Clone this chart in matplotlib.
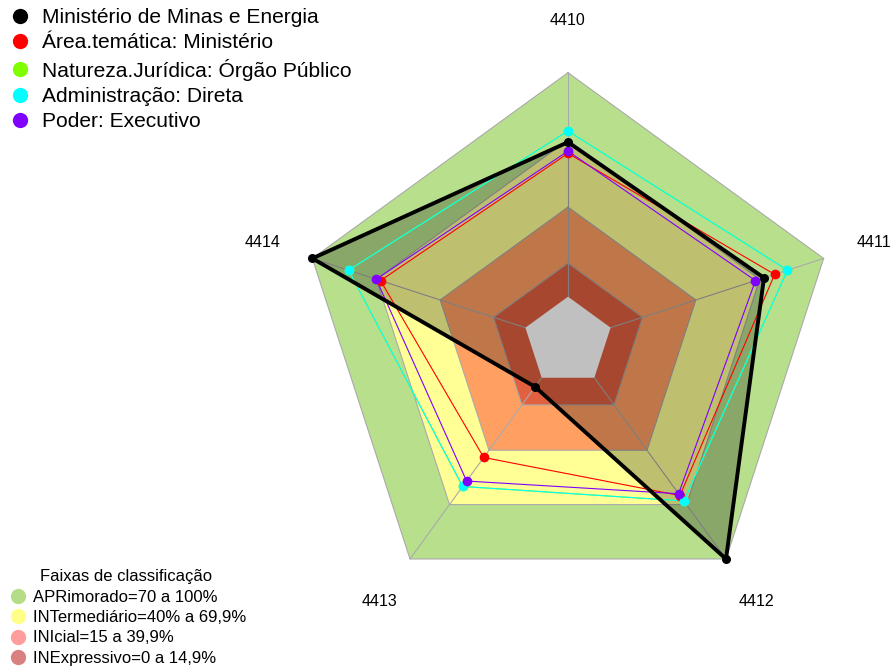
import numpy as np
import matplotlib
matplotlib.use('Agg')
import matplotlib.pyplot as plt
from matplotlib.lines import Line2D

plt.rcParams['font.family'] = ['Liberation Sans', 'DejaVu Sans']

# ---- data ----
axis_labels = ['4410', '4411', '4412', '4413', '4414']
series_names = ['Ministério de Minas e Energia', 'Área.temática: Ministério',
                'Natureza.Jurídica: Órgão Público', 'Administração: Direta',
                'Poder: Executivo']
series_colors = ['#000000', '#ff0000', '#7fff00', '#00ffff', '#8000ff']
minas = [0.69, 0.72, 1.00, 0.05, 1.00]
area = [0.64, 0.77, 0.65, 0.44, 0.68]
natureza = [0.74, 0.83, 0.68, 0.60, 0.83]
admin = [0.74, 0.83, 0.68, 0.60, 0.83]
poder = [0.65, 0.68, 0.64, 0.57, 0.70]

band_title = 'Faixas de classificação'
band_labels = ['APRimorado=70 a 100%', 'INTermediário=40% a 69,9%',
               'INIcial=15 a 39,9%', 'INExpressivo=0 a 14,9%']
band_limits = [1.0, 0.7, 0.4, 0.15]
band_colors = ['#b8e08c', '#ffff96', '#ffa062', '#e06040']
band_legend_colors = ['#b5dd88', '#ffff88', '#ff9c9c', '#d98080']
center_color = '#c0c0c0'

vmin = -0.2
n = len(axis_labels)
theta = np.deg2rad(90 - 72 * np.arange(n))


def xy(vals):
    r = np.asarray(vals, dtype=float) - vmin
    x = r * np.cos(theta)
    y = r * np.sin(theta)
    return np.append(x, x[0]), np.append(y, y[0])


W, H = 893, 668
fig = plt.figure(figsize=(W / 100, H / 100), dpi=100)
ax = fig.add_axes([0, 0, 1, 1])
scale = 224.0  # px per data unit
cx, cy = 568, 341.5
ax.set_xlim(-cx / scale, (W - cx) / scale)
ax.set_ylim(-(H - cy) / scale, cy / scale)
ax.axis('off')

# background bands
for lim, col in zip(band_limits, band_colors):
    x, y = xy([lim] * n)
    ax.fill(x, y, color=col, lw=0, zorder=1)

# grid
for lim in band_limits:
    x, y = xy([lim] * n)
    ax.plot(x, y, color='#aaaaaa', lw=0.8, zorder=2)
x0, y0 = xy([0.0] * n)
x1, y1 = xy([1.0] * n)
for i in range(n):
    ax.plot([x0[i], x1[i]], [y0[i], y1[i]], color='#aaaaaa', lw=0.8, zorder=2)

# series fill (first series only)
all_series = [minas, area, natureza, admin, poder]
x, y = xy(minas)
ax.fill(x, y, color='black', alpha=0.25, lw=0, zorder=3)

# center (drawn above the fill)
x, y = xy([0] * n)
ax.fill(x, y, color=center_color, lw=0, zorder=3.5)

for vals, col in zip(all_series[1:], series_colors[1:]):
    x, y = xy(vals)
    ax.plot(x, y, color=col, lw=0.8, zorder=4)
    ax.plot(x[:-1], y[:-1], 'o', color=col, ms=7, mec='none', zorder=5)
x, y = xy(minas)
ax.plot(x, y, color='black', lw=2.8, zorder=6)
ax.plot(x[:-1], y[:-1], 'o', color='black', ms=6.5, mec='none', zorder=6)

# axis labels
lr = 1.195 * (1.0 - vmin)
for i, lab in enumerate(axis_labels):
    ax.text(lr * np.cos(theta[i]), lr * np.sin(theta[i]), lab,
            ha='center', va='center', fontsize=11.5, zorder=7)

# series legend
handles = [Line2D([], [], ls='none', marker='o', ms=11, color=c, mec='none')
           for c in series_colors]
leg1 = ax.legend(handles, series_names, loc='upper left',
                 bbox_to_anchor=(5.3 / W, 1 - 8 / H), frameon=False,
                 fontsize=15.1, labelspacing=0.30, handletextpad=0.35,
                 handlelength=1.4, borderpad=0, borderaxespad=0)
ax.add_artist(leg1)

# band legend
bh = [Line2D([], [], ls='none', marker='o', ms=11, color=c, mec='none')
      for c in band_legend_colors]
leg2 = ax.legend(bh, band_labels, title=band_title, loc='lower left',
                 bbox_to_anchor=(6.3 / W, 2 / H), frameon=False, fontsize=12,
                 title_fontsize=12, labelspacing=0.33, handletextpad=0.2,
                 handlelength=1.4, borderpad=0, borderaxespad=0)

fig.savefig('out.png', dpi=100)
